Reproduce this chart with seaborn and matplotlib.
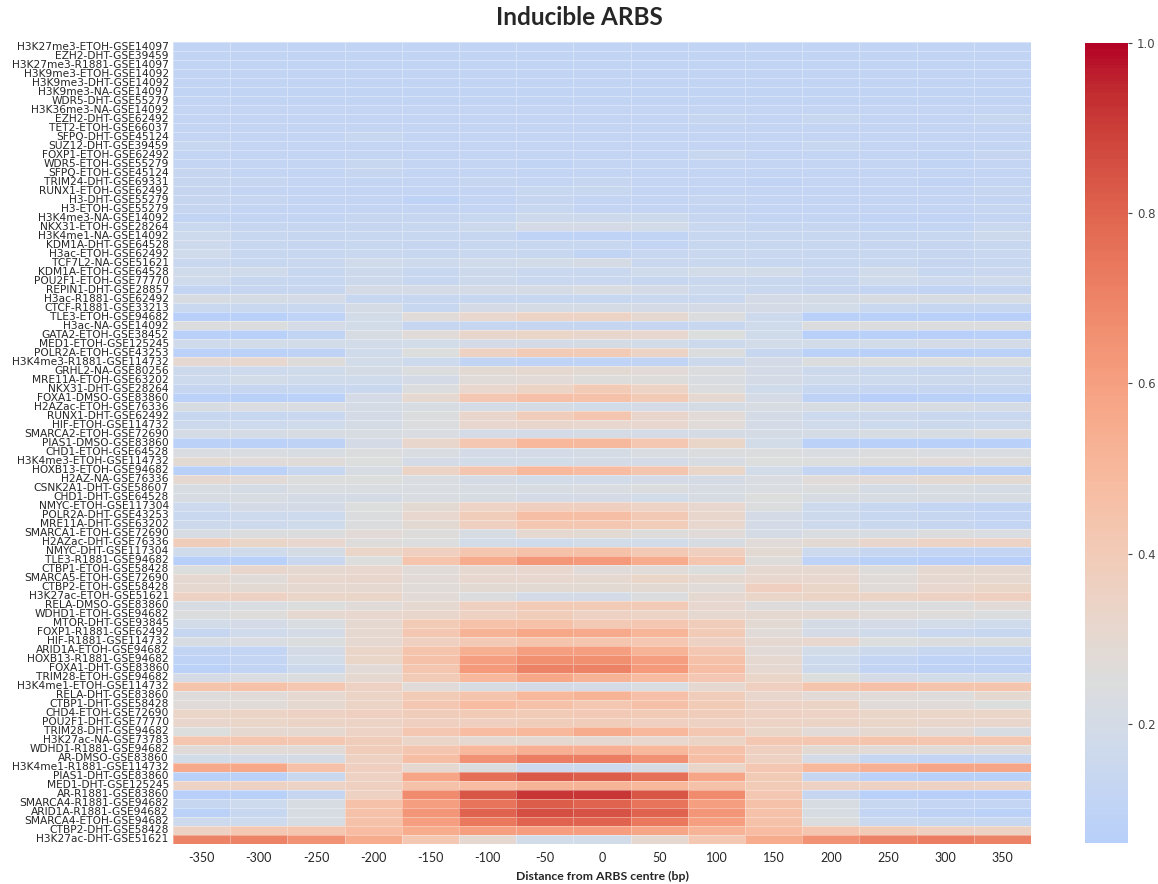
import numpy as np
import pandas as pd
import matplotlib
matplotlib.use("Agg")
import matplotlib.pyplot as plt
import seaborn as sns

positions = [-350, -300, -250, -200, -150, -100, -50, 0, 50, 100, 150, 200, 250, 300, 350]

row_labels = [
    "H3K27me3-ETOH-GSE14097", "EZH2-DHT-GSE39459", "H3K27me3-R1881-GSE14097",
    "H3K9me3-ETOH-GSE14092", "H3K9me3-DHT-GSE14092", "H3K9me3-NA-GSE14097",
    "WDR5-DHT-GSE55279", "H3K36me3-NA-GSE14092", "EZH2-DHT-GSE62492",
    "TET2-ETOH-GSE66037", "SFPQ-DHT-GSE45124", "SUZ12-DHT-GSE39459",
    "FOXP1-ETOH-GSE62492", "WDR5-ETOH-GSE55279", "SFPQ-ETOH-GSE45124",
    "TRIM24-DHT-GSE69331", "RUNX1-ETOH-GSE62492", "H3-DHT-GSE55279",
    "H3-ETOH-GSE55279", "H3K4me3-NA-GSE14092", "NKX31-ETOH-GSE28264",
    "H3K4me1-NA-GSE14092", "KDM1A-DHT-GSE64528", "H3ac-ETOH-GSE62492",
    "TCF7L2-NA-GSE51621", "KDM1A-ETOH-GSE64528", "POU2F1-ETOH-GSE77770",
    "REPIN1-DHT-GSE28857", "H3ac-R1881-GSE62492", "CTCF-R1881-GSE33213",
    "TLE3-ETOH-GSE94682", "H3ac-NA-GSE14092", "GATA2-ETOH-GSE38452",
    "MED1-ETOH-GSE125245", "POLR2A-ETOH-GSE43253", "H3K4me3-R1881-GSE114732",
    "GRHL2-NA-GSE80256", "MRE11A-ETOH-GSE63202", "NKX31-DHT-GSE28264",
    "FOXA1-DMSO-GSE83860", "H2AZac-ETOH-GSE76336", "RUNX1-DHT-GSE62492",
    "HIF-ETOH-GSE114732", "SMARCA2-ETOH-GSE72690", "PIAS1-DMSO-GSE83860",
    "CHD1-ETOH-GSE64528", "H3K4me3-ETOH-GSE114732", "HOXB13-ETOH-GSE94682",
    "H2AZ-NA-GSE76336", "CSNK2A1-DHT-GSE58607", "CHD1-DHT-GSE64528",
    "NMYC-ETOH-GSE117304", "POLR2A-DHT-GSE43253", "MRE11A-DHT-GSE63202",
    "SMARCA1-ETOH-GSE72690", "H2AZac-DHT-GSE76336", "NMYC-DHT-GSE117304",
    "TLE3-R1881-GSE94682", "CTBP1-ETOH-GSE58428", "SMARCA5-ETOH-GSE72690",
    "CTBP2-ETOH-GSE58428", "H3K27ac-ETOH-GSE51621", "RELA-DMSO-GSE83860",
    "WDHD1-ETOH-GSE94682", "MTOR-DHT-GSE93845", "FOXP1-R1881-GSE62492",
    "HIF-R1881-GSE114732", "ARID1A-ETOH-GSE94682", "HOXB13-R1881-GSE94682",
    "FOXA1-DHT-GSE83860", "TRIM28-ETOH-GSE94682", "H3K4me1-ETOH-GSE114732",
    "RELA-DHT-GSE83860", "CTBP1-DHT-GSE58428", "CHD4-ETOH-GSE72690",
    "POU2F1-DHT-GSE77770", "TRIM28-DHT-GSE94682", "H3K27ac-NA-GSE73783",
    "WDHD1-R1881-GSE94682", "AR-DMSO-GSE83860", "H3K4me1-R1881-GSE114732",
    "PIAS1-DHT-GSE83860", "MED1-DHT-GSE125245", "AR-R1881-GSE83860",
    "SMARCA4-R1881-GSE94682", "ARID1A-R1881-GSE94682", "SMARCA4-ETOH-GSE94682",
    "CTBP2-DHT-GSE58428", "H3K27ac-DHT-GSE51621",
]

# rows 1-30
rows_top = [
    [0.11, 0.11, 0.11, 0.11, 0.11, 0.11, 0.11, 0.11, 0.11, 0.11, 0.11, 0.11, 0.11, 0.11, 0.11],
    [0.11, 0.11, 0.11, 0.11, 0.11, 0.11, 0.11, 0.11, 0.11, 0.11, 0.11, 0.11, 0.11, 0.11, 0.11],
    [0.11, 0.11, 0.11, 0.11, 0.11, 0.11, 0.11, 0.11, 0.11, 0.11, 0.11, 0.11, 0.11, 0.11, 0.11],
    [0.11, 0.11, 0.11, 0.11, 0.11, 0.11, 0.11, 0.11, 0.11, 0.11, 0.11, 0.11, 0.11, 0.11, 0.11],
    [0.11, 0.11, 0.11, 0.11, 0.11, 0.11, 0.11, 0.11, 0.11, 0.11, 0.11, 0.11, 0.11, 0.11, 0.11],
    [0.11, 0.11, 0.11, 0.11, 0.11, 0.11, 0.11, 0.11, 0.11, 0.11, 0.11, 0.11, 0.11, 0.11, 0.11],
    [0.12, 0.11, 0.11, 0.11, 0.11, 0.11, 0.11, 0.11, 0.11, 0.11, 0.11, 0.11, 0.11, 0.11, 0.11],
    [0.12, 0.12, 0.12, 0.12, 0.12, 0.12, 0.12, 0.12, 0.12, 0.12, 0.12, 0.12, 0.12, 0.12, 0.12],
    [0.12, 0.12, 0.12, 0.12, 0.12, 0.12, 0.12, 0.12, 0.12, 0.13, 0.12, 0.14, 0.12, 0.12, 0.14],
    [0.12, 0.12, 0.12, 0.12, 0.12, 0.12, 0.12, 0.12, 0.12, 0.12, 0.12, 0.12, 0.12, 0.12, 0.12],
    [0.12, 0.12, 0.12, 0.14, 0.12, 0.12, 0.12, 0.12, 0.12, 0.12, 0.12, 0.12, 0.12, 0.12, 0.12],
    [0.14, 0.12, 0.12, 0.12, 0.12, 0.12, 0.12, 0.12, 0.12, 0.12, 0.12, 0.14, 0.12, 0.12, 0.12],
    [0.12, 0.12, 0.12, 0.12, 0.12, 0.12, 0.12, 0.12, 0.12, 0.14, 0.12, 0.12, 0.12, 0.11, 0.13],
    [0.12, 0.12, 0.12, 0.14, 0.12, 0.12, 0.11, 0.12, 0.12, 0.12, 0.12, 0.12, 0.12, 0.11, 0.12],
    [0.13, 0.12, 0.12, 0.13, 0.12, 0.12, 0.12, 0.12, 0.12, 0.12, 0.12, 0.12, 0.12, 0.12, 0.12],
    [0.13, 0.13, 0.12, 0.12, 0.12, 0.13, 0.12, 0.13, 0.12, 0.12, 0.11, 0.12, 0.12, 0.11, 0.12],
    [0.13, 0.12, 0.12, 0.12, 0.12, 0.12, 0.14, 0.14, 0.12, 0.12, 0.12, 0.12, 0.12, 0.12, 0.13],
    [0.13, 0.13, 0.12, 0.12, 0.10, 0.12, 0.13, 0.12, 0.12, 0.13, 0.12, 0.12, 0.12, 0.12, 0.12],
    [0.13, 0.12, 0.12, 0.12, 0.12, 0.12, 0.14, 0.12, 0.12, 0.12, 0.12, 0.12, 0.12, 0.12, 0.13],
    [0.11, 0.12, 0.12, 0.13, 0.13, 0.14, 0.16, 0.16, 0.16, 0.13, 0.12, 0.12, 0.11, 0.11, 0.12],
    [0.15, 0.13, 0.13, 0.13, 0.14, 0.16, 0.20, 0.20, 0.19, 0.15, 0.13, 0.13, 0.12, 0.12, 0.15],
    [0.17, 0.14, 0.13, 0.14, 0.14, 0.13, 0.10, 0.10, 0.11, 0.14, 0.14, 0.14, 0.13, 0.14, 0.16],
    [0.17, 0.14, 0.13, 0.14, 0.13, 0.14, 0.14, 0.14, 0.12, 0.14, 0.14, 0.14, 0.13, 0.13, 0.14],
    [0.18, 0.14, 0.14, 0.15, 0.14, 0.15, 0.14, 0.11, 0.14, 0.15, 0.15, 0.14, 0.14, 0.13, 0.15],
    [0.15, 0.14, 0.15, 0.18, 0.17, 0.18, 0.19, 0.21, 0.15, 0.15, 0.14, 0.14, 0.14, 0.13, 0.14],
    [0.18, 0.18, 0.14, 0.16, 0.14, 0.16, 0.15, 0.15, 0.18, 0.19, 0.19, 0.15, 0.18, 0.14, 0.15],
    [0.18, 0.14, 0.14, 0.16, 0.14, 0.16, 0.15, 0.15, 0.14, 0.15, 0.15, 0.14, 0.18, 0.17, 0.18],
    [0.12, 0.13, 0.14, 0.20, 0.20, 0.20, 0.21, 0.23, 0.20, 0.17, 0.15, 0.13, 0.12, 0.11, 0.12],
    [0.22, 0.21, 0.20, 0.14, 0.14, 0.14, 0.14, 0.14, 0.15, 0.15, 0.20, 0.21, 0.22, 0.22, 0.22],
    [0.15, 0.15, 0.15, 0.21, 0.14, 0.20, 0.21, 0.21, 0.20, 0.20, 0.20, 0.19, 0.15, 0.13, 0.13],
]

# rows 31-50
rows_mid = [
    [0.06, 0.07, 0.10, 0.19, 0.27, 0.31, 0.35, 0.35, 0.30, 0.24, 0.17, 0.07, 0.07, 0.07, 0.06],
    [0.24, 0.24, 0.20, 0.19, 0.13, 0.13, 0.13, 0.13, 0.13, 0.14, 0.18, 0.24, 0.24, 0.24, 0.24],
    [0.07, 0.07, 0.11, 0.22, 0.27, 0.32, 0.33, 0.32, 0.31, 0.25, 0.18, 0.07, 0.07, 0.06, 0.07],
    [0.18, 0.19, 0.19, 0.19, 0.19, 0.20, 0.20, 0.21, 0.19, 0.16, 0.19, 0.19, 0.19, 0.20, 0.20],
    [0.08, 0.08, 0.09, 0.18, 0.25, 0.36, 0.40, 0.40, 0.34, 0.24, 0.14, 0.08, 0.07, 0.07, 0.08],
    [0.30, 0.31, 0.26, 0.19, 0.17, 0.11, 0.10, 0.10, 0.11, 0.16, 0.20, 0.24, 0.25, 0.25, 0.25],
    [0.16, 0.17, 0.18, 0.21, 0.24, 0.29, 0.30, 0.29, 0.28, 0.24, 0.20, 0.16, 0.15, 0.14, 0.15],
    [0.17, 0.19, 0.18, 0.18, 0.20, 0.27, 0.28, 0.26, 0.26, 0.23, 0.20, 0.18, 0.17, 0.16, 0.16],
    [0.13, 0.13, 0.14, 0.15, 0.24, 0.31, 0.34, 0.40, 0.35, 0.24, 0.18, 0.14, 0.13, 0.13, 0.14],
    [0.08, 0.07, 0.08, 0.20, 0.30, 0.42, 0.46, 0.45, 0.40, 0.30, 0.20, 0.09, 0.06, 0.07, 0.07],
    [0.22, 0.23, 0.23, 0.21, 0.22, 0.21, 0.21, 0.19, 0.20, 0.21, 0.22, 0.22, 0.22, 0.22, 0.21],
    [0.14, 0.14, 0.15, 0.20, 0.24, 0.32, 0.38, 0.43, 0.32, 0.28, 0.20, 0.17, 0.16, 0.15, 0.15],
    [0.16, 0.17, 0.18, 0.21, 0.24, 0.31, 0.32, 0.31, 0.31, 0.27, 0.20, 0.18, 0.17, 0.16, 0.17],
    [0.21, 0.21, 0.22, 0.22, 0.23, 0.20, 0.20, 0.21, 0.20, 0.21, 0.21, 0.21, 0.22, 0.22, 0.24],
    [0.08, 0.08, 0.09, 0.20, 0.32, 0.42, 0.50, 0.49, 0.42, 0.33, 0.19, 0.08, 0.07, 0.07, 0.07],
    [0.23, 0.23, 0.22, 0.24, 0.23, 0.20, 0.20, 0.21, 0.23, 0.24, 0.24, 0.23, 0.24, 0.23, 0.23],
    [0.29, 0.27, 0.27, 0.25, 0.20, 0.19, 0.19, 0.20, 0.20, 0.22, 0.25, 0.25, 0.26, 0.27, 0.26],
    [0.07, 0.08, 0.14, 0.22, 0.34, 0.43, 0.50, 0.48, 0.43, 0.33, 0.19, 0.12, 0.08, 0.07, 0.07],
    [0.30, 0.28, 0.25, 0.25, 0.23, 0.21, 0.19, 0.19, 0.20, 0.21, 0.23, 0.27, 0.28, 0.29, 0.29],
    [0.22, 0.21, 0.23, 0.23, 0.23, 0.22, 0.22, 0.23, 0.24, 0.22, 0.23, 0.24, 0.21, 0.22, 0.21],
]

# rows 51-70
rows_low = [
    [0.22, 0.22, 0.21, 0.21, 0.23, 0.22, 0.20, 0.20, 0.19, 0.22, 0.25, 0.22, 0.22, 0.22, 0.22],
    [0.17, 0.20, 0.20, 0.25, 0.29, 0.35, 0.37, 0.37, 0.35, 0.31, 0.24, 0.17, 0.14, 0.12, 0.11],
    [0.15, 0.17, 0.17, 0.24, 0.31, 0.38, 0.47, 0.47, 0.41, 0.32, 0.20, 0.16, 0.14, 0.13, 0.12],
    [0.16, 0.17, 0.18, 0.24, 0.29, 0.37, 0.42, 0.42, 0.39, 0.31, 0.20, 0.17, 0.15, 0.13, 0.12],
    [0.22, 0.24, 0.24, 0.28, 0.26, 0.22, 0.30, 0.29, 0.26, 0.27, 0.21, 0.23, 0.22, 0.24, 0.23],
    [0.38, 0.33, 0.31, 0.26, 0.25, 0.19, 0.18, 0.19, 0.19, 0.22, 0.27, 0.29, 0.32, 0.35, 0.35],
    [0.18, 0.18, 0.21, 0.33, 0.37, 0.43, 0.45, 0.45, 0.41, 0.37, 0.29, 0.17, 0.13, 0.12, 0.12],
    [0.06, 0.07, 0.15, 0.25, 0.44, 0.55, 0.63, 0.62, 0.55, 0.43, 0.26, 0.10, 0.07, 0.06, 0.06],
    [0.25, 0.32, 0.30, 0.31, 0.27, 0.30, 0.31, 0.27, 0.27, 0.25, 0.30, 0.30, 0.26, 0.30, 0.30],
    [0.30, 0.27, 0.31, 0.32, 0.28, 0.31, 0.31, 0.30, 0.33, 0.30, 0.31, 0.31, 0.27, 0.30, 0.30],
    [0.30, 0.29, 0.30, 0.30, 0.27, 0.29, 0.29, 0.29, 0.29, 0.27, 0.37, 0.33, 0.27, 0.31, 0.33],
    [0.36, 0.36, 0.33, 0.33, 0.28, 0.24, 0.20, 0.20, 0.24, 0.30, 0.33, 0.34, 0.34, 0.36, 0.37],
    [0.22, 0.23, 0.25, 0.27, 0.30, 0.37, 0.40, 0.40, 0.40, 0.31, 0.26, 0.24, 0.24, 0.24, 0.28],
    [0.24, 0.26, 0.30, 0.31, 0.32, 0.36, 0.38, 0.36, 0.34, 0.30, 0.30, 0.30, 0.27, 0.26, 0.24],
    [0.19, 0.20, 0.23, 0.30, 0.40, 0.45, 0.45, 0.41, 0.42, 0.38, 0.29, 0.21, 0.20, 0.19, 0.18],
    [0.13, 0.18, 0.20, 0.30, 0.42, 0.52, 0.57, 0.56, 0.51, 0.40, 0.27, 0.20, 0.18, 0.15, 0.14],
    [0.22, 0.23, 0.24, 0.30, 0.37, 0.41, 0.44, 0.43, 0.42, 0.36, 0.30, 0.31, 0.25, 0.24, 0.24],
    [0.11, 0.12, 0.20, 0.33, 0.44, 0.54, 0.60, 0.60, 0.52, 0.42, 0.28, 0.19, 0.16, 0.14, 0.13],
    [0.10, 0.12, 0.19, 0.33, 0.45, 0.60, 0.66, 0.66, 0.60, 0.45, 0.30, 0.17, 0.12, 0.10, 0.10],
    [0.08, 0.11, 0.16, 0.28, 0.43, 0.62, 0.70, 0.70, 0.62, 0.47, 0.30, 0.16, 0.11, 0.09, 0.09],
]

# rows 71-89
rows_bottom = [
    [0.20, 0.23, 0.24, 0.30, 0.40, 0.50, 0.57, 0.52, 0.48, 0.42, 0.33, 0.25, 0.20, 0.19, 0.19],
    [0.44, 0.45, 0.42, 0.36, 0.27, 0.22, 0.20, 0.20, 0.23, 0.30, 0.37, 0.44, 0.46, 0.44, 0.44],
    [0.26, 0.27, 0.30, 0.34, 0.40, 0.44, 0.50, 0.52, 0.46, 0.38, 0.32, 0.28, 0.27, 0.26, 0.30],
    [0.27, 0.27, 0.30, 0.34, 0.42, 0.48, 0.45, 0.42, 0.46, 0.40, 0.35, 0.34, 0.27, 0.27, 0.25],
    [0.33, 0.34, 0.36, 0.37, 0.38, 0.40, 0.40, 0.41, 0.40, 0.38, 0.36, 0.35, 0.33, 0.33, 0.33],
    [0.32, 0.33, 0.34, 0.35, 0.37, 0.37, 0.38, 0.38, 0.37, 0.36, 0.35, 0.34, 0.33, 0.32, 0.32],
    [0.25, 0.30, 0.30, 0.35, 0.42, 0.48, 0.50, 0.55, 0.50, 0.42, 0.33, 0.28, 0.30, 0.28, 0.22],
    [0.43, 0.43, 0.42, 0.38, 0.33, 0.30, 0.30, 0.30, 0.31, 0.34, 0.42, 0.43, 0.44, 0.43, 0.43],
    [0.27, 0.28, 0.28, 0.38, 0.43, 0.50, 0.53, 0.53, 0.50, 0.45, 0.37, 0.29, 0.28, 0.28, 0.27],
    [0.19, 0.20, 0.21, 0.36, 0.47, 0.65, 0.72, 0.72, 0.65, 0.47, 0.36, 0.20, 0.13, 0.12, 0.13],
    [0.56, 0.57, 0.45, 0.37, 0.30, 0.24, 0.17, 0.17, 0.22, 0.33, 0.42, 0.50, 0.53, 0.58, 0.58],
    [0.07, 0.08, 0.15, 0.36, 0.58, 0.77, 0.83, 0.82, 0.76, 0.58, 0.40, 0.13, 0.08, 0.07, 0.07],
    [0.35, 0.36, 0.35, 0.37, 0.45, 0.48, 0.52, 0.52, 0.50, 0.45, 0.40, 0.36, 0.36, 0.36, 0.35],
    [0.06, 0.07, 0.13, 0.36, 0.67, 0.84, 0.92, 0.92, 0.84, 0.67, 0.42, 0.13, 0.07, 0.06, 0.06],
    [0.13, 0.17, 0.22, 0.45, 0.60, 0.75, 0.82, 0.80, 0.75, 0.60, 0.45, 0.22, 0.14, 0.12, 0.12],
    [0.08, 0.14, 0.22, 0.45, 0.64, 0.80, 0.86, 0.85, 0.80, 0.64, 0.45, 0.22, 0.12, 0.09, 0.08],
    [0.17, 0.17, 0.22, 0.45, 0.60, 0.74, 0.80, 0.80, 0.74, 0.60, 0.45, 0.24, 0.15, 0.14, 0.14],
    [0.36, 0.42, 0.43, 0.48, 0.55, 0.60, 0.61, 0.61, 0.58, 0.52, 0.48, 0.43, 0.40, 0.37, 0.36],
    [0.70, 0.70, 0.65, 0.55, 0.42, 0.30, 0.19, 0.19, 0.30, 0.42, 0.55, 0.65, 0.70, 0.72, 0.70],
]

values = rows_top + rows_mid + rows_low + rows_bottom
df = pd.DataFrame(values, index=row_labels, columns=positions)

sns.set_style("white")
plt.rcParams["font.family"] = ["DejaVu Sans"]

fig = plt.figure(figsize=(11.58, 8.84), dpi=100)
ax = fig.add_axes([173 / 1158, 1 - 844 / 884, (1031 - 173) / 1158, (844 - 42) / 884])
cax = fig.add_axes([1085 / 1158, 1 - 843 / 884, 43 / 1158, (843 - 43) / 884])

sns.heatmap(df, ax=ax, cbar_ax=cax, cmap="coolwarm", vmin=0.06, vmax=1.0, center=0.25,
            linewidths=0.5, linecolor=(1, 1, 1, 0.35),
            xticklabels=True, yticklabels=True)

ax.set_yticks(np.arange(len(row_labels)) + 0.5)
ax.set_yticklabels(row_labels, fontsize=7.7, color="#262626")
ax.tick_params(axis="y", length=0, pad=3)
ax.tick_params(axis="x", length=0, pad=6)
for t in ax.get_xticklabels():
    t.set_fontfamily("Lato")
    t.set_fontsize(9)
    t.set_rotation(0)
    t.set_color("#262626")
ax.set_xlabel("Distance from ARBS centre (bp)", fontfamily="Lato", fontweight="bold",
              fontsize=8.8, labelpad=5)
ax.set_ylabel("")

cax.tick_params(labelsize=8.5, colors="#444444", length=3, width=0.8)
cax.set_yticks([0.2, 0.4, 0.6, 0.8, 1.0])
for s in cax.spines.values():
    s.set_visible(False)

fig.suptitle("Inducible ARBS", x=0.5, y=0.993, fontfamily="Lato", fontweight="bold",
             fontsize=17.5, va="top")

fig.savefig("out.png", dpi=100)
